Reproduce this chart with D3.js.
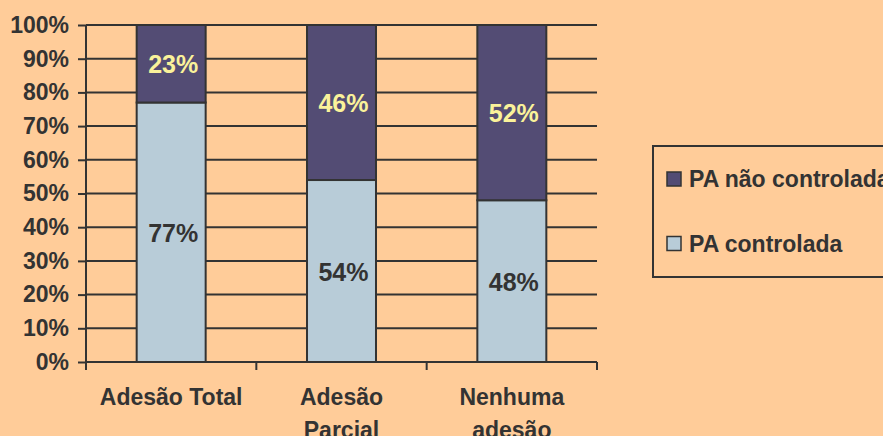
<!DOCTYPE html>
<html>
<head>
<meta charset="utf-8">
<script src="https://cdn.jsdelivr.net/npm/d3@7"></script>
<style>
  html, body { margin: 0; padding: 0; background: #FFCC99; }
  svg { display: block; }
  text { font-family: "Liberation Sans", Arial, sans-serif; font-weight: bold; }
</style>
</head>
<body>
<svg id="chart" width="883" height="436"></svg>
<script>
// Adherence categories (multi-line labels) and stacked shares
const categories = ["Adesão Total", "Adesão Parcial", "Nenhuma adesão"];
const categoryLines = [["Adesão Total"], ["Adesão", "Parcial"], ["Nenhuma", "adesão"]];
const controlada = [77, 54, 48];      // PA controlada (bottom)
const naoControlada = [23, 46, 52];   // PA não controlada (top)
const yTicks = [0, 10, 20, 30, 40, 50, 60, 70, 80, 90, 100];
const seriesNames = ["PA não controlada", "PA controlada"];
const seriesColors = ["#534C74", "#B8CCD8"];

const ink = "#333333";
const labelInk = "#FAF29A";
const textSize = 23;

const svg = d3.select("#chart");
const plot = { left: 86, right: 597, top: 25, bottom: 362 };

const x = d3.scaleBand().domain(categories).range([plot.left, plot.right]).paddingInner(0.595).paddingOuter(0.2975);
const y = d3.scaleLinear().domain([0, 100]).range([plot.bottom, plot.top]);

// horizontal gridlines
svg.append("g").selectAll("line").data(yTicks.filter(d => d > 0)).join("line")
  .attr("x1", plot.left).attr("x2", plot.right)
  .attr("y1", d => y(d)).attr("y2", d => y(d))
  .attr("stroke", ink).attr("stroke-width", 2);

// y axis
const yAxis = svg.append("g").attr("transform", `translate(${plot.left},0)`)
  .call(d3.axisLeft(y).tickValues(yTicks).tickFormat(d => d + "%").tickSize(8).tickPadding(9));
yAxis.select(".domain").attr("stroke", ink).attr("stroke-width", 2).attr("d", `M0,${plot.top}V${plot.bottom}`);
yAxis.selectAll(".tick line").attr("stroke", ink).attr("stroke-width", 2);
yAxis.selectAll(".tick text").attr("fill", ink).attr("font-size", textSize)
  .attr("font-family", "Liberation Sans, Arial, sans-serif").attr("font-weight", "bold");

// stacked bars
const stackData = categories.map((c, i) => ({ cat: c, controlada: controlada[i], nao: naoControlada[i] }));
const stack = d3.stack().keys(["controlada", "nao"])(stackData);
const fills = { controlada: seriesColors[1], nao: seriesColors[0] };

stack.forEach(layer => {
  svg.append("g").selectAll("rect").data(layer).join("rect")
    .attr("x", d => x(d.data.cat))
    .attr("width", x.bandwidth())
    .attr("y", d => y(d[1]))
    .attr("height", d => y(d[0]) - y(d[1]))
    .attr("fill", fills[layer.key])
    .attr("stroke", ink).attr("stroke-width", 2);
});

// value labels centred in each segment
stack.forEach(layer => {
  svg.append("g").selectAll("text").data(layer).join("text")
    .attr("x", d => x(d.data.cat) + x.bandwidth() / 2 + 2)
    .attr("y", d => (y(d[0]) + y(d[1])) / 2)
    .attr("dy", "0.38em")
    .attr("text-anchor", "middle")
    .attr("font-size", 25)
    .attr("fill", layer.key === "nao" ? labelInk : ink)
    .text(d => (d[1] - d[0]) + "%");
});

// x axis baseline with category-boundary ticks
svg.append("line").attr("x1", plot.left).attr("x2", plot.right)
  .attr("y1", plot.bottom).attr("y2", plot.bottom)
  .attr("stroke", ink).attr("stroke-width", 2);
const boundaries = d3.range(categories.length + 1).map(i => plot.left + (plot.right - plot.left) * i / categories.length);
svg.append("g").selectAll("line").data(boundaries).join("line")
  .attr("x1", d => d).attr("x2", d => d)
  .attr("y1", plot.bottom).attr("y2", plot.bottom + 8)
  .attr("stroke", ink).attr("stroke-width", 2);

// category labels
const catLabels = svg.append("g").selectAll("text").data(categories).join("text")
  .attr("text-anchor", "middle")
  .attr("font-size", textSize)
  .attr("fill", ink)
  .attr("x", d => x(d) + x.bandwidth() / 2)
  .attr("y", 405);
catLabels.each(function(d, i) {
  d3.select(this).selectAll("tspan").data(categoryLines[i]).join("tspan")
    .attr("x", x(d) + x.bandwidth() / 2)
    .attr("dy", (t, j) => j === 0 ? 0 : 33)
    .text(t => t);
});

// legend
const legend = svg.append("g");
legend.append("rect").attr("x", 653).attr("y", 146).attr("width", 260).attr("height", 131)
  .attr("fill", "none").attr("stroke", ink).attr("stroke-width", 2);
seriesNames.forEach((name, i) => {
  const yy = 172 + i * 64.5;
  legend.append("rect").attr("x", 667).attr("y", yy).attr("width", 14).attr("height", 14)
    .attr("fill", seriesColors[i]).attr("stroke", ink).attr("stroke-width", 1.5);
  legend.append("text").attr("x", 689).attr("y", yy + 15)
    .attr("font-size", textSize).attr("fill", ink).text(name);
});
</script>
</body>
</html>
